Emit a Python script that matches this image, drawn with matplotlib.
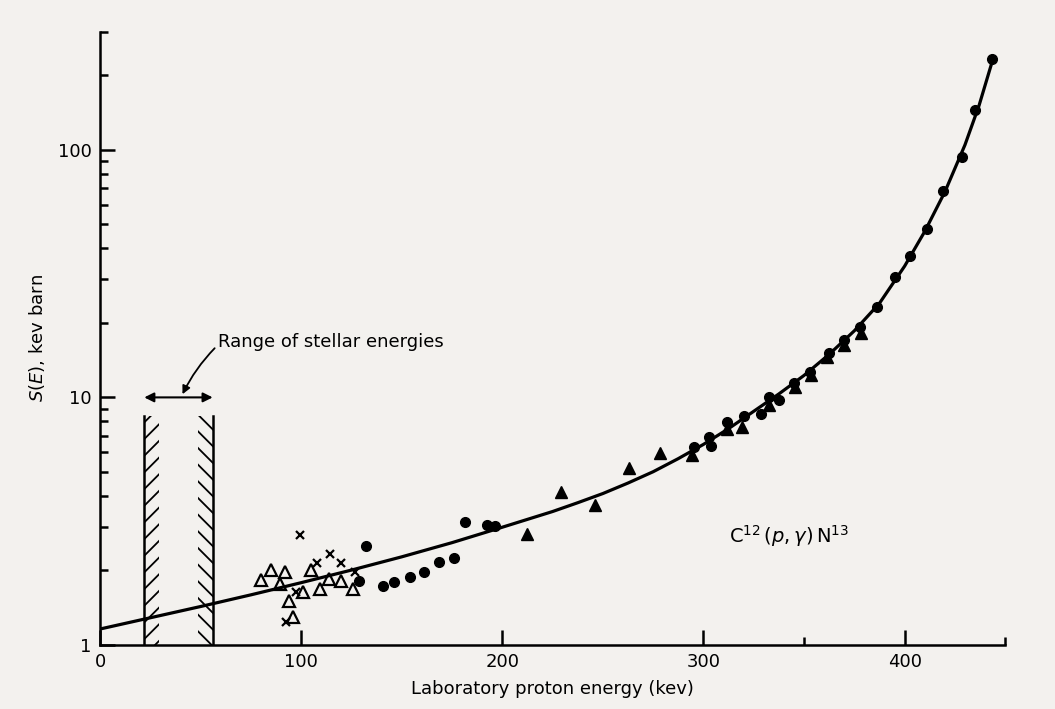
import numpy as np
import matplotlib.pyplot as plt
from matplotlib.patches import Rectangle

# curve S(E)
curve_e = [0, 25, 50, 75, 100, 125, 150, 175, 200, 225, 237.5, 250, 262.5,
           275, 287.5, 300, 312.5, 325, 337.5, 350, 362.5, 375, 387.5, 400,
           410, 420, 430, 437, 444]
curve_s = [1.16, 1.288, 1.43, 1.594, 1.785, 2.007, 2.27, 2.59, 2.99, 3.46,
           3.755, 4.09, 4.51, 5.01, 5.66, 6.46, 7.48, 8.79, 10.33, 12.27,
           14.93, 18.58, 24.0, 33.9, 46.8, 67.6, 104.7, 151, 234]

# filled circles
dot_e = [128.7, 132.0, 140.6, 146.2, 154.2, 160.9, 168.7, 175.8, 181.5, 192.2,
         196.4, 295.3, 302.7, 303.6, 311.8, 320.1, 328.4, 332.5, 337.5, 344.9,
         353.2, 362.3, 369.7, 378.0, 386.3, 395.0, 402.5, 410.9, 419.0, 428.4,
         435.1, 443.3]
dot_s = [1.82, 2.50, 1.73, 1.79, 1.88, 1.97, 2.16, 2.24, 3.13, 3.05,
         3.02, 6.28, 6.90, 6.38, 7.94, 8.45, 8.59, 10.0, 9.72, 11.4,
         12.7, 15.1, 17.1, 19.3, 23.2, 30.7, 37.4, 48.0, 68.1, 93.4,
         145, 232]

# filled triangles
tri_e = [212.1, 229.1, 246.2, 263.0, 278.3, 294.4, 311.7, 319.1, 332.5,
         345.4, 353.3, 361.3, 369.7, 378.2]
tri_s = [2.81, 4.15, 3.67, 5.18, 5.99, 5.86, 7.48, 7.57, 9.28,
         11.0, 12.3, 14.5, 16.3, 18.2]

# open triangles
otri_e = [80.2, 85.2, 91.8, 89.3, 93.9, 95.9, 100.9, 105.1, 109.2, 113.6,
          120.0, 125.7]
otri_s = [1.83, 2.01, 1.98, 1.77, 1.50, 1.30, 1.64, 2.01, 1.69, 1.84,
          1.82, 1.69]

# crosses
cross_e = [99.3, 107.7, 114.1, 120.0, 126.6, 92.7, 97.3]
cross_s = [2.77, 2.15, 2.32, 2.14, 1.98, 1.24, 1.63]

# stellar energy band
band_lo, band_hi, band_top = 22, 56, 8.4

paper = '#f3f1ee'
plt.rcParams['hatch.linewidth'] = 1.3
fig = plt.figure(figsize=(10.55, 7.09), dpi=100, facecolor=paper)
ax = fig.add_axes([0.0948, 0.0903, 0.858, 0.865], facecolor=paper)

ax.set_yscale('log')
ax.set_xlim(0, 450)
ax.set_ylim(1, 300)

ax.plot(curve_e, curve_s, color='black', lw=2.3, zorder=2)
ax.plot(dot_e, dot_s, 'o', color='black', ms=7, zorder=3)
ax.plot(tri_e, tri_s, '^', color='black', ms=8, zorder=3)
ax.plot(otri_e, otri_s, '^', mfc='none', mec='black', mew=1.6, ms=8.5, zorder=3)
ax.plot(cross_e, cross_s, 'x', color='black', mew=1.6, ms=5.5, zorder=3)

# hatched walls of the stellar range
ax.add_patch(Rectangle((band_lo, 1), 7.5, band_top - 1, fill=False,
                       hatch='//', lw=0, zorder=1))
ax.add_patch(Rectangle((band_hi - 7.5, 1), 7.5, band_top - 1, fill=False,
                       hatch='\\\\', lw=0, zorder=1))
ax.plot([band_lo, band_lo], [1, band_top], color='black', lw=1.8)
ax.plot([band_hi, band_hi], [1, band_top], color='black', lw=1.8)

ax.annotate('', xy=(band_lo, 10), xytext=(band_hi, 10),
            arrowprops=dict(arrowstyle='<|-|>', color='black', lw=1.5,
                            mutation_scale=14, shrinkA=0, shrinkB=0))
ax.text(58.5, 16.7, 'Range of stellar energies', fontsize=13,
        va='center', ha='left')
ax.annotate('', xy=(41, 10.3), xytext=(57, 15.8),
            arrowprops=dict(arrowstyle='-|>', color='black', lw=1.3,
                            mutation_scale=12, shrinkA=0, shrinkB=0,
                            connectionstyle='arc3,rad=0.08'))

ax.text(312.7, 2.75, r'$\mathrm{C}^{12}\,(p,\gamma)\,\mathrm{N}^{13}$',
        fontsize=14, va='center', ha='left')

# axes in the old book style
for s in ['top', 'right']:
    ax.spines[s].set_visible(False)
for s in ['left', 'bottom']:
    ax.spines[s].set_linewidth(1.8)

ax.set_xticks([0, 100, 200, 300, 400])
ax.set_xticks([350, 450], minor=True)
ax.set_yticks([1, 10, 100])
ax.set_yticklabels(['1', '10', '100'])
ax.set_yticks([2, 3, 4, 5, 6, 7, 8, 9, 20, 30, 40, 50, 60, 70, 80, 90, 200, 300],
              minor=True)
ax.yaxis.set_minor_formatter(plt.NullFormatter())
ax.tick_params(axis='both', which='major', direction='in', length=11, width=1.8,
               labelsize=13, pad=6)
ax.tick_params(axis='both', which='minor', direction='in', length=6, width=1.8)

ax.set_xlabel('Laboratory proton energy (kev)', fontsize=13, labelpad=6)
ax.set_ylabel(r'$S(E)$, kev barn', fontsize=13, labelpad=8)

fig.savefig('out.png', dpi=100, facecolor=paper)
